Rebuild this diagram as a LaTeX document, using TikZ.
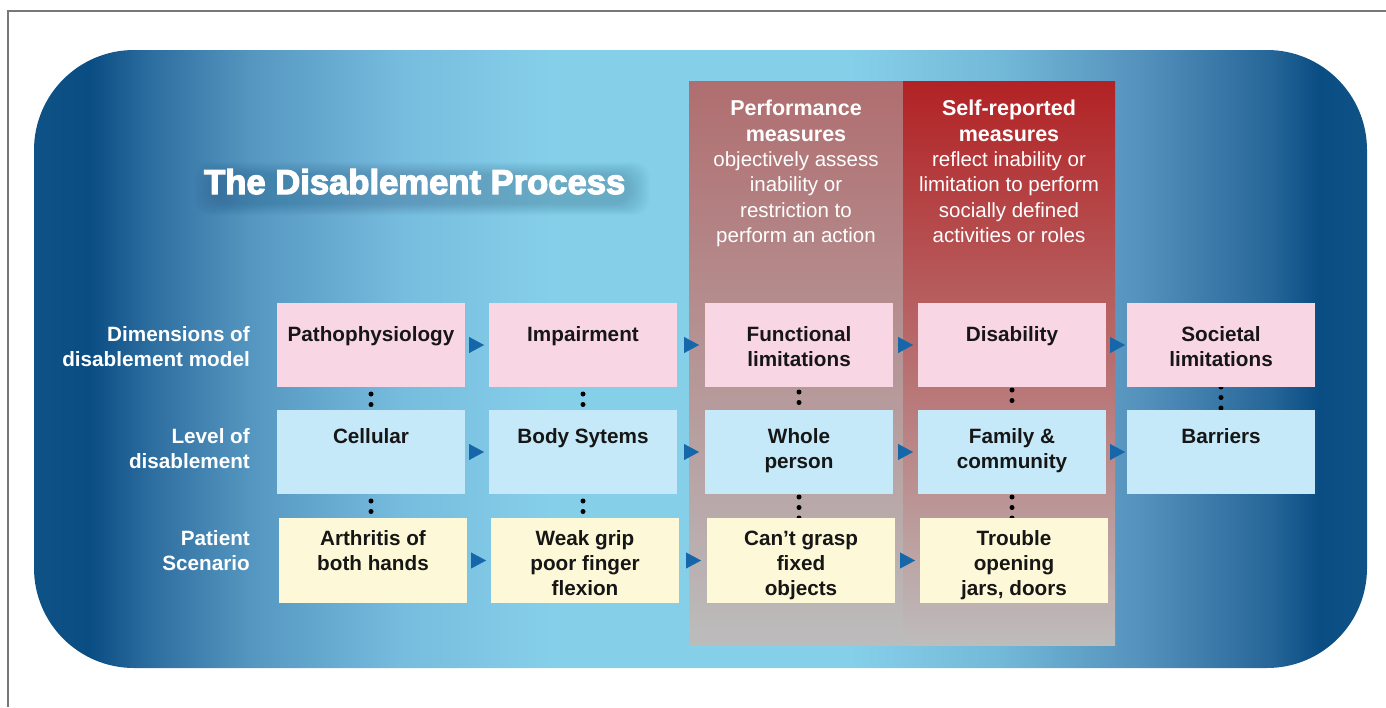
\documentclass[tikz,border=0pt]{standalone}
\usepackage{fontspec}
\setmainfont{Liberation Sans}
\newfontfamily\titlefont{Liberation Sans Bold}[FakeBold=3.5]
\usetikzlibrary{arrows.meta}

\pgfdeclarelayer{background}
\pgfdeclarelayer{dots}
\pgfsetlayers{background,dots,main}

% palette
\definecolor{framegray}{RGB}{120,120,120}
\definecolor{edgeblue}{RGB}{14,82,134}
\definecolor{deepblue}{RGB}{10,77,131}
\definecolor{blueA}{RGB}{45,110,160}
\definecolor{blueB}{RGB}{85,150,192}
\definecolor{blueC}{RGB}{118,188,222}
\definecolor{skyblue}{RGB}{134,207,233}
\definecolor{blueCr}{RGB}{115,185,216}
\definecolor{blueBr}{RGB}{82,142,186}
\definecolor{blueAr}{RGB}{38,102,152}
\definecolor{perftop}{RGB}{176,110,112}
\definecolor{perfbot}{RGB}{188,188,188}
\definecolor{selftop}{RGB}{178,34,36}
\definecolor{selfmid}{RGB}{183,110,90}
\definecolor{selfbot}{RGB}{190,188,188}
\definecolor{pinkfill}{RGB}{249,214,227}
\definecolor{bluefill}{RGB}{197,233,248}
\definecolor{yellowfill}{RGB}{253,249,216}
\definecolor{arrowblue}{RGB}{22,102,170}
\definecolor{inkdark}{RGB}{22,22,22}
\definecolor{shadowblue}{RGB}{15,55,95}

% horizontal sweep of the rounded panel: dark rims, light sky-blue centre
\pgfdeclarehorizontalshading{panelblue}{100bp}{%
  color(0bp)=(edgeblue); color(25bp)=(edgeblue); color(27.1bp)=(deepblue);
  color(29.4bp)=(blueA); color(33.1bp)=(blueB); color(38.7bp)=(blueC);
  color(44.4bp)=(skyblue); color(55.6bp)=(skyblue); color(61.2bp)=(blueCr);
  color(66.9bp)=(blueBr); color(71.4bp)=(blueAr); color(73.2bp)=(deepblue);
  color(75bp)=(edgeblue); color(100bp)=(edgeblue)}

% box contents: top-aligned text in a fixed-size cell
\newcommand{\celltext}[3]{\parbox[c][#1pt][t]{188pt}{\centering\vspace*{#2pt}\strut #3}}

\begin{document}
\begin{tikzpicture}[x=1pt,y=-1pt,
  cell/.style={shape=rectangle, inner sep=0pt, outer sep=0pt, text=inkdark,
    font=\fontsize{20.7}{25.2}\selectfont\bfseries},
  pinkcell/.style={cell, fill=pinkfill},
  bluecell/.style={cell, fill=bluefill},
  yellowcell/.style={cell, fill=yellowfill},
  rowlabel/.style={inner sep=0pt, anchor=base east, text=white,
    font=\fontsize{20.7}{25.2}\selectfont\bfseries},
  header/.style={inner sep=0pt, anchor=base, text=white,
    font=\fontsize{20.5}{25.4}\selectfont},
  flow/.style={-{Triangle[length=15pt,width=16pt]}, draw=arrowblue, fill=arrowblue, line width=0.4pt},
  dotline/.style={draw=black, line width=5pt, line cap=round, dash pattern=on 0pt off 10.5pt}
]
\useasboundingbox (0,0) rectangle (1386,707);

\begin{pgfonlayer}{background}
  % thin page rule along the top and left
  \draw[framegray, line width=1.2pt] (1386,11) -- (8,11) -- (8,707);
  % rounded blue panel
  \shade[shading=panelblue, rounded corners=100pt] (34,50) rectangle (1367,668);
  % measure columns
  \shade[top color=perftop, bottom color=perfbot] (689,81) rectangle (903,645);
  \shade[top color=selftop, middle color=selfmid, bottom color=selfbot] (903,81) rectangle (1115,645);
  % soft dark haze behind the title
  \foreach \i in {0,...,11}
    \fill[shadowblue, opacity=0.018, rounded corners=16pt]
      (214-\i*1.8,174-\i*1.1) rectangle (630+\i*1.8,204+\i*1.0);
\end{pgfonlayer}

% title
\node[anchor=base west, inner sep=0pt, text=white,
      font=\fontsize{34.6}{40}\selectfont\titlefont] (title) at (204,194) {The Disablement Process};

% column headers
\node[header] (perfhead) at (796,115.7) {\parbox[t]{214pt}{\centering\strut
  {\fontsize{21.5}{25.4}\selectfont\bfseries Performance}\\
  {\fontsize{21.5}{25.4}\selectfont\bfseries measures}\\
  objectively assess\\ inability or\\ restriction to\\ perform an action}};
\node[header] (selfhead) at (1009,115.7) {\parbox[t]{214pt}{\centering\strut
  {\fontsize{21.5}{25.4}\selectfont\bfseries Self-reported}\\
  {\fontsize{21.5}{25.4}\selectfont\bfseries measures}\\
  reflect inability or\\ limitation to perform\\ socially defined\\ activities or roles}};

% row labels
\node[rowlabel] (lab1) at (250,341.7) {\parbox[t]{220pt}{\raggedleft\strut Dimensions of\\ disablement model}};
\node[rowlabel] (lab2) at (250,443.3) {\parbox[t]{220pt}{\raggedleft\strut Level of\\ disablement}};
\node[rowlabel] (lab3) at (250,545.0) {\parbox[t]{220pt}{\raggedleft\strut Patient\\ Scenario}};

% row 1: dimensions of the disablement model
\node[pinkcell] (d1) at (371,345) {\celltext{84}{21.1}{Pathophysiology}};
\node[pinkcell] (d2) at (583,345) {\celltext{84}{21.1}{Impairment}};
\node[pinkcell] (d3) at (799,345) {\celltext{84}{21.1}{Functional\\ limitations}};
\node[pinkcell] (d4) at (1012,345) {\celltext{84}{21.1}{Disability}};
\node[pinkcell] (d5) at (1221,345) {\celltext{84}{21.1}{Societal\\ limitations}};

% row 2: level of disablement
\node[bluecell] (v1) at (371,452) {\celltext{84}{15.7}{Cellular}};
\node[bluecell] (v2) at (583,452) {\celltext{84}{15.7}{Body Sytems}};
\node[bluecell] (v3) at (799,452) {\celltext{84}{15.7}{Whole\\ person}};
\node[bluecell] (v4) at (1012,452) {\celltext{84}{15.7}{Family \&\\ community}};
\node[bluecell] (v5) at (1221,452) {\celltext{84}{15.7}{Barriers}};

% row 3: patient scenario
\node[yellowcell] (s1) at (373,560.5) {\celltext{85}{9.4}{Arthritis of\\ both hands}};
\node[yellowcell] (s2) at (585,560.5) {\celltext{85}{9.4}{Weak grip\\ poor finger\\ flexion}};
\node[yellowcell] (s3) at (801,560.5) {\celltext{85}{9.4}{Can’t grasp\\ fixed\\ objects}};
\node[yellowcell] (s4) at (1014,560.5) {\celltext{85}{9.4}{Trouble\\ opening\\ jars, doors}};

% progression arrows
\draw[flow, shorten <=4pt, shorten >=5pt] (d1.east) -- (d2.west);
\draw[flow, shorten <=8pt, shorten >=6pt] (d2.east) -- (d3.west);
\draw[flow, shorten <=5pt, shorten >=5pt] (d3.east) -- (d4.west);
\draw[flow, shorten <=4pt, shorten >=2pt] (d4.east) -- (d5.west);
\draw[flow, shorten <=4pt, shorten >=5pt] (v1.east) -- (v2.west);
\draw[flow, shorten <=8pt, shorten >=6pt] (v2.east) -- (v3.west);
\draw[flow, shorten <=5pt, shorten >=5pt] (v3.east) -- (v4.west);
\draw[flow, shorten <=4pt, shorten >=2pt] (v4.east) -- (v5.west);
\draw[flow, shorten <=4pt, shorten >=5pt] (s1.east) -- (s2.west);
\draw[flow, shorten <=8pt, shorten >=6pt] (s2.east) -- (s3.west);
\draw[flow, shorten <=5pt, shorten >=5pt] (s3.east) -- (s4.west);

% dotted links between the rows, tucked under the cells
\begin{pgfonlayer}{dots}
  \draw[dotline, shorten <=7pt] (d1.south) -- (v1.north);
  \draw[dotline, shorten <=7pt] (d2.south) -- (v2.north);
  \draw[dotline, shorten <=5pt] (d3.south) -- (v3.north);
  \draw[dotline, shorten <=3pt] (d4.south) -- (v4.north);
  \draw[dotline, shorten <=0pt] (d5.south) -- (v5.north);
  \draw[dotline, shorten <=7pt] (v1.south) -- (s1.north -| v1.south);
  \draw[dotline, shorten <=7pt] (v2.south) -- (s2.north -| v2.south);
  \draw[dotline, shorten <=3pt] (v3.south) -- (s3.north -| v3.south);
  \draw[dotline, shorten <=3pt] (v4.south) -- (s4.north -| v4.south);
\end{pgfonlayer}
\end{tikzpicture}
\end{document}
